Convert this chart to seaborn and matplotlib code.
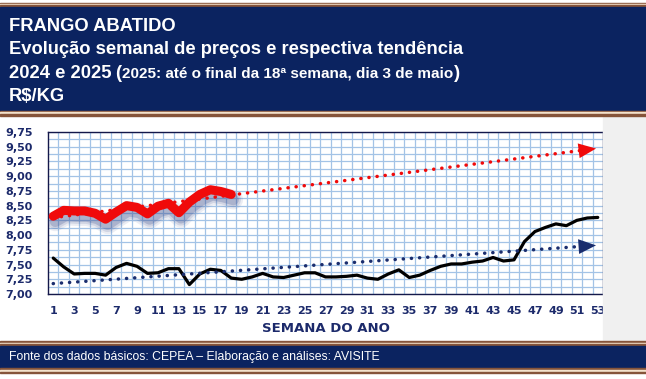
import numpy as np
import pandas as pd
import matplotlib
matplotlib.use("Agg")
import matplotlib.pyplot as plt
import matplotlib.patheffects as pe
from matplotlib.patches import Rectangle
import seaborn as sns

# --- Data (R$/kg, weekly) ---
weeks_2024 = list(range(1, 54))
prices_2024 = [7.61, 7.46, 7.34, 7.35, 7.35, 7.32, 7.45, 7.52, 7.47, 7.35,
               7.36, 7.43, 7.43, 7.16, 7.34, 7.42, 7.40, 7.27, 7.25, 7.29,
               7.35, 7.29, 7.28, 7.32, 7.36, 7.36, 7.29, 7.29, 7.30, 7.32,
               7.27, 7.25, 7.34, 7.41, 7.28, 7.32, 7.40, 7.47, 7.51, 7.51,
               7.54, 7.56, 7.62, 7.56, 7.58, 7.89, 8.06, 8.13, 8.19, 8.16,
               8.25, 8.29, 8.30]
weeks_2025 = list(range(1, 19))
prices_2025 = [8.32, 8.42, 8.41, 8.41, 8.37, 8.27, 8.39, 8.50, 8.47, 8.36,
               8.49, 8.54, 8.38, 8.56, 8.69, 8.77, 8.74, 8.69]

x_ticks = list(range(1, 54, 2))
y_ticks = [7.00, 7.25, 7.50, 7.75, 8.00, 8.25, 8.50, 8.75, 9.00, 9.25, 9.50, 9.75]

title_1 = "FRANGO ABATIDO"
title_2 = "Evolução semanal de preços e respectiva tendência"
title_3a = "2024 e 2025"
title_3b = "2025: até o final da 18ª semana, dia 3 de maio"
title_4 = "R$/KG"
x_title = "SEMANA DO ANO"
source = "Fonte dos dados básicos: CEPEA – Elaboração e análises: AVISITE"

# --- Colours ---
NAVY = "#0b2360"
BROWN = "#86543a"
CREAM = "#f4e2cc"
LABEL = "#1c2a6b"
GRID = "#a3c3e6"
RED = "#f00a0a"
TREND_24 = "#1a2d6e"

W, H = 646, 379


def band(fig, y_top, y_bot, color, x0=0, x1=W):
    """Rectangle in figure pixels (y measured from the top)."""
    fig.patches.append(Rectangle((x0 / W, 1 - y_bot / H), (x1 - x0) / W, (y_bot - y_top) / H,
                                 transform=fig.transFigure, color=color, zorder=0))


def trend(weeks, prices, upto):
    # linear trend line, same as the spreadsheet's trendline
    slope, icpt = np.polyfit(weeks, prices, 1)
    xs = np.arange(1, upto + 1)
    return pd.DataFrame({"week": xs, "price": slope * xs + icpt}), slope, icpt


sns.set_theme(style="white")
plt.rcParams["font.family"] = ["DejaVu Sans"]

fig = plt.figure(figsize=(W / 100, H / 100), dpi=100)
fig.patch.set_facecolor("white")

# header / footer bands with the brown stripes
band(fig, 116, 341, "#f0f0f0", x0=603)
band(fig, 2.5, 4, BROWN)
band(fig, 4, 5, CREAM)
band(fig, 5, 7, BROWN)
band(fig, 7, 110.7, NAVY)
band(fig, 110.7, 112.3, BROWN)
band(fig, 112.3, 114, CREAM)
band(fig, 114, 116, BROWN)
band(fig, 341, 342.7, BROWN)
band(fig, 342.7, 344, CREAM)
band(fig, 344, 345.7, BROWN)
band(fig, 345.7, 367.7, NAVY)
band(fig, 367.7, 370, BROWN)
band(fig, 370, 371.7, CREAM)
band(fig, 371.7, 373.3, BROWN)

ax = fig.add_axes([48 / W, 1 - 294 / H, (603 - 48) / W, (294 - 132) / H])
ax.set_facecolor("white")

df24 = pd.DataFrame({"week": weeks_2024, "price": prices_2024})
df25 = pd.DataFrame({"week": weeks_2025, "price": prices_2025})
tr24, s24, i24 = trend(weeks_2024, prices_2024, 52)
tr25, s25, i25 = trend(weeks_2025, prices_2025, 52)

shadow = [pe.SimpleLineShadow(offset=(1.5, -3.8), shadow_color="#3d4f8e", alpha=0.10, linewidth=14),
          pe.SimpleLineShadow(offset=(1.5, -3.8), shadow_color="#3d4f8e", alpha=0.15, linewidth=11),
          pe.SimpleLineShadow(offset=(1.5, -3.8), shadow_color="#3d4f8e", alpha=0.25, linewidth=8),
          pe.Normal()]

sns.lineplot(data=df24, x="week", y="price", ax=ax, color="black", linewidth=2.3,
             solid_joinstyle="round", zorder=3)
sns.lineplot(data=df25, x="week", y="price", ax=ax, color=RED, linewidth=6.5,
             solid_joinstyle="round", solid_capstyle="round", path_effects=shadow, zorder=3)

dots = (0, (0.05, 2.3))
sns.lineplot(data=tr24, x="week", y="price", ax=ax, color=TREND_24, linewidth=2.5,
             linestyle=dots, dash_capstyle="round", zorder=4)
sns.lineplot(data=tr25, x="week", y="price", ax=ax, color=RED, linewidth=2.5,
             linestyle=dots, dash_capstyle="round", zorder=4)

# arrow heads at the end of the trend lines
for s, i, c in [(s24, i24, TREND_24), (s25, i25, RED)]:
    ax.annotate("", xy=(53.1, s * 53.1 + i), xytext=(51.6, s * 51.6 + i),
                arrowprops=dict(arrowstyle="-|>,head_length=0.9,head_width=0.38",
                                color=c, lw=0, mutation_scale=14), zorder=5)

# axes, grid and labels
ax.set_xlim(0.5, 53.5)
ax.set_ylim(7.0, 9.75)
ax.set_xticks(x_ticks)
ax.set_xticklabels([str(w) for w in x_ticks])
ax.set_xticks(np.arange(1.5, 53.5, 1), minor=True)
ax.set_yticks(y_ticks)
ax.set_yticklabels([f"{v:.2f}".replace(".", ",") for v in y_ticks])
ax.set_yticks(np.arange(7.125, 9.75, 0.25), minor=True)
ax.xaxis.grid(True, which="minor", color=GRID, linewidth=0.9)
ax.yaxis.grid(True, which="both", color=GRID, linewidth=0.9)
ax.set_axisbelow(True)
ax.tick_params(which="both", length=0)
ax.tick_params(axis="y", pad=11, labelsize=8, labelcolor=LABEL)
ax.tick_params(axis="x", pad=9, labelsize=8, labelcolor=LABEL)
for lab in ax.get_xticklabels() + ax.get_yticklabels():
    lab.set_fontweight("bold")
for sp in ax.spines.values():
    sp.set_color("#14184a")
    sp.set_linewidth(1.0)
ax.set_xlabel("")
ax.set_ylabel("")

fig.text(325.5 / W, 1 - 328 / H, x_title, ha="center", va="center",
         fontsize=9.5, fontweight="bold", color=LABEL)

# header text
head = dict(color="white", fontweight="bold", family="Liberation Sans", va="baseline")
fig.text(9 / W, 1 - 31 / H, title_1, fontsize=13.2, **head)
fig.text(9 / W, 1 - 54 / H, title_2, fontsize=13.2, **head)
fig.text(9 / W, 1 - 101 / H, title_4, fontsize=13.2, **head)

renderer = fig.canvas.get_renderer()
x_px = 9
for txt, size, gap in [(title_3a, 13.2, 4), ("(", 13.2, 0.5), (title_3b, 11, 0.5), (")", 13.2, 0)]:
    t = fig.text(x_px / W, 1 - 78 / H, txt, fontsize=size, **head)
    x_px += t.get_window_extent(renderer).width + gap

fig.text(9 / W, 1 - 357 / H, source, fontsize=8.8, color="white",
         family="Liberation Sans", va="center")

fig.savefig("out.png", dpi=100)
